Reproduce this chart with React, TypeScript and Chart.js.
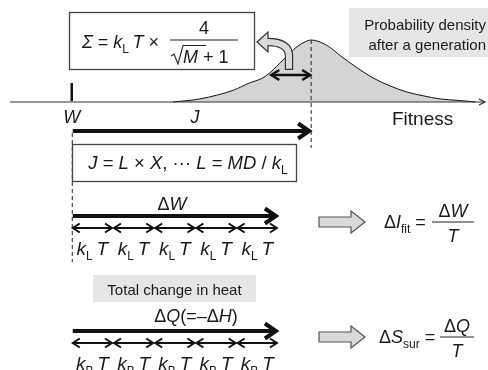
import { useEffect, useRef } from "react";
import { Chart, registerables } from "chart.js";

Chart.register(...registerables);

// ---- Data: probability density after a generation (fitness units, normalised density) ----
const fitness = [21.3, 27.0, 34.0, 37.5, 40.0, 41.7, 44.5, 47.4, 49.1, 50.4, 51.8, 54.0, 56.5, 60.1, 63.4, 67.0, 70.6, 74.0, 77.5, 81.1, 83.8, 85.0];
const density = [0, 0.05, 0.19, 0.31, 0.38, 0.47, 0.68, 0.89, 0.97, 1.0, 0.98, 0.9, 0.75, 0.55, 0.39, 0.26, 0.16, 0.1, 0.05, 0.027, 0.01, 0];

// Positions on the fitness axis
const wPosition = 0; // W
const peakPosition = 50.4; // mean after a generation
const spreadLeft = 41.8; // left end of Σ-width arrow
const deltaWEnd = 43.4; // end of ΔW arrow
const segmentCount = 5;

// Texts
const densityLabel = ["Probability density", "after a generation"];
const axisLabel = "Fitness";
const heatLabel = "Total change in heat";
const unitSubscripts = ["L", "B"];

const FONT = '"Liberation Sans", Arial, Helvetica, sans-serif';
const fnt = (size: number, italic?: boolean) => `${italic ? "italic " : ""}${size}px ${FONT}`;
const TS = "\u2009";

type Part = { t: string; i?: boolean; sub?: boolean };

function drawRich(ctx: CanvasRenderingContext2D, parts: Part[], x: number, y: number, align: "left" | "center" | "right", size = 18) {
  const sz = (p: Part) => (p.sub ? Math.round(size * 0.64) : size);
  const widths = parts.map((p) => {
    ctx.font = fnt(sz(p), p.i);
    return ctx.measureText(p.t).width;
  });
  const total = widths.reduce((a, b) => a + b, 0);
  let cx = align === "left" ? x : align === "center" ? x - total / 2 : x - total;
  ctx.textAlign = "left";
  ctx.textBaseline = "alphabetic";
  parts.forEach((p, k) => {
    ctx.font = fnt(sz(p), p.i);
    ctx.fillText(p.t, cx, y + (p.sub ? size * 0.27 : 0));
    cx += widths[k];
  });
}

function openHead(ctx: CanvasRenderingContext2D, x: number, y: number, dir: number, len: number, half: number) {
  ctx.beginPath();
  ctx.moveTo(x - dir * len, y - half);
  ctx.lineTo(x, y);
  ctx.lineTo(x - dir * len, y + half);
  ctx.stroke();
}

function thickArrow(ctx: CanvasRenderingContext2D, x1: number, x2: number, y: number) {
  ctx.save();
  ctx.strokeStyle = "#111";
  ctx.lineWidth = 4;
  ctx.lineCap = "butt";
  ctx.lineJoin = "miter";
  ctx.beginPath();
  ctx.moveTo(x1, y);
  ctx.lineTo(x2 - 3, y);
  ctx.stroke();
  openHead(ctx, x2 - 2, y, 1, 11, 7.5);
  ctx.restore();
}

function doubleArrow(ctx: CanvasRenderingContext2D, x1: number, x2: number, y: number, lw = 2, len = 7, half = 4.5) {
  ctx.save();
  ctx.strokeStyle = "#111";
  ctx.lineWidth = lw;
  ctx.lineJoin = "miter";
  ctx.beginPath();
  ctx.moveTo(x1 + 1, y);
  ctx.lineTo(x2 - 1, y);
  ctx.stroke();
  openHead(ctx, x1 + 1, y, -1, len, half);
  openHead(ctx, x2 - 1, y, 1, len, half);
  ctx.restore();
}

function blockArrow(ctx: CanvasRenderingContext2D, x0: number, x1: number, y: number) {
  const xh = x1 - 14;
  ctx.save();
  ctx.beginPath();
  ctx.moveTo(x0, y - 5);
  ctx.lineTo(xh, y - 5);
  ctx.lineTo(xh, y - 11);
  ctx.lineTo(x1, y);
  ctx.lineTo(xh, y + 11);
  ctx.lineTo(xh, y + 5);
  ctx.lineTo(x0, y + 5);
  ctx.closePath();
  ctx.fillStyle = "#d9d9d9";
  ctx.fill();
  ctx.strokeStyle = "#555";
  ctx.lineWidth = 1.2;
  ctx.stroke();
  ctx.restore();
}

function fraction(ctx: CanvasRenderingContext2D, num: Part[], den: Part[], x1: number, x2: number, y: number) {
  ctx.save();
  ctx.strokeStyle = "#222";
  ctx.lineWidth = 1.2;
  ctx.beginPath();
  ctx.moveTo(x1, y);
  ctx.lineTo(x2, y);
  ctx.stroke();
  ctx.restore();
  const cx = (x1 + x2) / 2;
  drawRich(ctx, num, cx, y - 5, "center");
  drawRich(ctx, den, cx, y + 20, "center");
}

const diagramPlugin = {
  id: "diagram",
  afterDatasetsDraw(chart: any) {
    const ctx: CanvasRenderingContext2D = chart.ctx;
    const xs = chart.scales.x;
    const ys = chart.scales.y;
    const area = chart.chartArea;
    const axisY = ys.getPixelForValue(0);
    const wX = xs.getPixelForValue(wPosition);
    const peakX = xs.getPixelForValue(peakPosition);
    const spreadX = xs.getPixelForValue(spreadLeft);
    const dwX = xs.getPixelForValue(deltaWEnd);
    const peakY = ys.getPixelForValue(1);

    ctx.save();
    ctx.fillStyle = "#1a1a1a";

    // Fitness axis
    ctx.strokeStyle = "#333";
    ctx.lineWidth = 1.2;
    ctx.beginPath();
    ctx.moveTo(area.left, axisY);
    ctx.lineTo(area.right, axisY);
    ctx.stroke();
    openHead(ctx, area.right, axisY, 1, 6, 3);
    ctx.font = fnt(19);
    ctx.textAlign = "left";
    ctx.fillText(axisLabel, 392, 125);

    // W tick
    ctx.strokeStyle = "#111";
    ctx.lineWidth = 2.5;
    ctx.beginPath();
    ctx.moveTo(wX, 83);
    ctx.lineTo(wX, axisY - 1);
    ctx.stroke();
    drawRich(ctx, [{ t: "W", i: true }], wX, 123, "center");
    drawRich(ctx, [{ t: "J", i: true }], 195, 123, "center");

    // dashed guides
    ctx.save();
    ctx.strokeStyle = "#222";
    ctx.lineWidth = 1;
    ctx.setLineDash([4, 3]);
    ctx.beginPath();
    ctx.moveTo(peakX, peakY);
    ctx.lineTo(peakX, 148);
    ctx.moveTo(wX + 0.5, 133);
    ctx.lineTo(wX + 0.5, 262);
    ctx.stroke();
    ctx.restore();

    // J arrow
    thickArrow(ctx, wX + 1, peakX, 131);

    // spread double arrow
    doubleArrow(ctx, spreadX, peakX, 75, 2.5, 8, 5);

    // curved hollow arrow
    ctx.save();
    ctx.beginPath();
    ctx.moveTo(257, 42);
    ctx.lineTo(268, 32);
    ctx.lineTo(268, 52);
    ctx.closePath();
    ctx.fillStyle = "#d9d9d9";
    ctx.fill();
    ctx.strokeStyle = "#333";
    ctx.lineWidth = 1.2;
    ctx.stroke();
    ctx.lineCap = "butt";
    ctx.beginPath();
    ctx.moveTo(289, 70);
    ctx.lineTo(289, 56);
    ctx.quadraticCurveTo(289, 42, 268, 42);
    ctx.strokeStyle = "#333";
    ctx.lineWidth = 8.4;
    ctx.stroke();
    ctx.beginPath();
    ctx.moveTo(289, 68.8);
    ctx.lineTo(289, 56);
    ctx.quadraticCurveTo(289, 42, 266.5, 42);
    ctx.strokeStyle = "#d9d9d9";
    ctx.lineWidth = 6;
    ctx.stroke();
    ctx.restore();

    // Σ box
    ctx.strokeStyle = "#444";
    ctx.lineWidth = 1.3;
    ctx.strokeRect(69.5, 12.5, 185, 57);
    drawRich(ctx, [{ t: "Σ", i: true }, { t: " = " }, { t: "k", i: true }, { t: "L", sub: true }, { t: TS + "T", i: true }, { t: " ×" }], 82, 48, "left");
    ctx.strokeStyle = "#222";
    ctx.lineWidth = 1.2;
    ctx.beginPath();
    ctx.moveTo(170, 40);
    ctx.lineTo(238, 40);
    ctx.stroke();
    drawRich(ctx, [{ t: "4" }], 204, 34, "center");
    // radical
    ctx.lineWidth = 1.1;
    ctx.beginPath();
    ctx.moveTo(171, 56);
    ctx.lineTo(174, 54);
    ctx.lineTo(178, 64);
    ctx.lineTo(183, 45.5);
    ctx.lineTo(206, 45.5);
    ctx.stroke();
    drawRich(ctx, [{ t: "M", i: true }, { t: " + 1" }], 183, 63, "left");

    // Probability density box
    ctx.fillStyle = "#e6e6e6";
    ctx.fillRect(349, 8, 139, 49);
    ctx.fillStyle = "#1a1a1a";
    ctx.font = fnt(15);
    ctx.textAlign = "right";
    ctx.fillText(densityLabel[0], 486, 30);
    ctx.fillText(densityLabel[1], 486, 50);

    // J box
    ctx.strokeStyle = "#444";
    ctx.lineWidth = 1.3;
    ctx.strokeRect(72.5, 144.5, 224, 37);
    drawRich(
      ctx,
      [
        { t: "J", i: true }, { t: " = " }, { t: "L", i: true }, { t: " × " }, { t: "X", i: true }, { t: ", ··· " },
        { t: "L", i: true }, { t: " = " }, { t: "MD", i: true }, { t: " / " }, { t: "k", i: true }, { t: "L", sub: true },
      ],
      188, 169, "center", 18.5
    );

    // energy rows
    const rows = [
      { arrowY: 216, segY: 228, labelY: 255, sub: unitSubscripts[0] },
      { arrowY: 331, segY: 343, labelY: 370, sub: unitSubscripts[1] },
    ];
    rows.forEach((r) => {
      thickArrow(ctx, wX + 1, dwX, r.arrowY);
      const seg = (dwX - wX) / segmentCount;
      for (let s = 0; s < segmentCount; s++) {
        const a = wX + s * seg;
        doubleArrow(ctx, a, a + seg, r.segY);
        drawRich(ctx, [{ t: "k", i: true }, { t: r.sub, sub: true }, { t: TS + "T", i: true }], a + seg / 2, r.labelY, "center", 19);
      }
    });

    drawRich(ctx, [{ t: "Δ" }, { t: "W", i: true }], 172, 210, "center");

    // heat box
    ctx.fillStyle = "#e6e6e6";
    ctx.fillRect(93, 275, 163, 27);
    ctx.fillStyle = "#1a1a1a";
    ctx.font = fnt(15);
    ctx.textAlign = "center";
    ctx.fillText(heatLabel, 174.5, 295);
    drawRich(ctx, [{ t: "Δ" }, { t: "Q", i: true }, { t: "(=–Δ" }, { t: "H", i: true }, { t: ")" }], 196, 322, "center");

    // block arrows and results
    blockArrow(ctx, 319, 365, 222);
    blockArrow(ctx, 319, 365, 337);
    drawRich(ctx, [{ t: "Δ" }, { t: "I", i: true }, { t: "fit", sub: true }, { t: " =" }], 384, 228, "left");
    fraction(ctx, [{ t: "Δ" }, { t: "W", i: true }], [{ t: "T", i: true }], 432, 474, 222);
    drawRich(ctx, [{ t: "Δ" }, { t: "S", i: true }, { t: "sur", sub: true }, { t: " =" }], 379, 343, "left");
    fraction(ctx, [{ t: "Δ" }, { t: "Q", i: true }], [{ t: "T", i: true }], 440, 474, 337);

    ctx.restore();
  },
};

export default function App() {
  const ref = useRef<HTMLCanvasElement>(null);
  useEffect(() => {
    if (!ref.current) return;
    const chart = new Chart(ref.current, {
      type: "line",
      data: {
        datasets: [
          {
            data: fitness.map((x, i) => ({ x, y: density[i] })),
            borderColor: "#111",
            borderWidth: 1,
            backgroundColor: "#d4d4d4",
            fill: "origin",
            pointRadius: 0,
            cubicInterpolationMode: "monotone",
            clip: false,
          } as any,
        ],
      },
      options: {
        responsive: false,
        animation: false,
        events: [],
        layout: { padding: { left: 10, right: 3, top: 40, bottom: 268 } },
        scales: {
          x: { type: "linear", min: -13, max: 87, display: false },
          y: { min: 0, max: 1, display: false },
        },
        plugins: { legend: { display: false }, tooltip: { enabled: false } },
      },
      plugins: [diagramPlugin],
    });
    return () => chart.destroy();
  }, []);
  return (
    <div style={{ position: "fixed", left: 0, top: 0, width: 488, height: 370, background: "#fff", overflow: "hidden" }}>
      <canvas ref={ref} width={488} height={370} style={{ display: "block" }} />
    </div>
  );
}
